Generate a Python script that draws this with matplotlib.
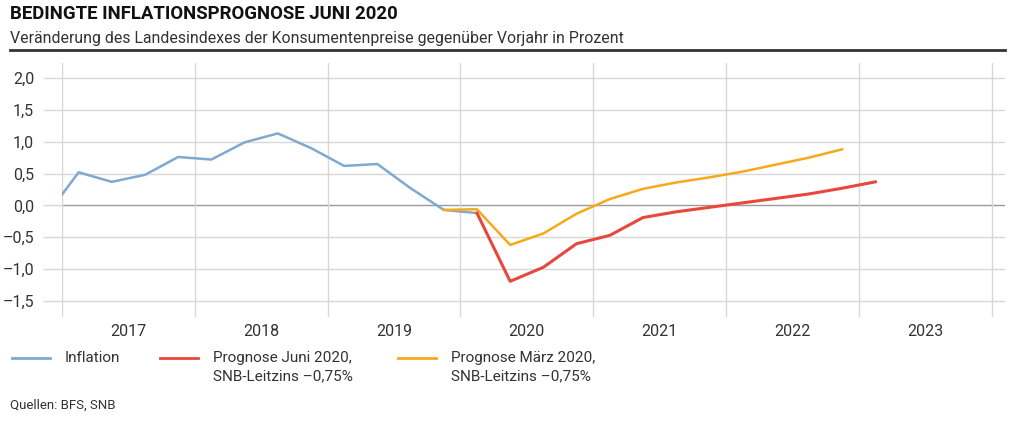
import matplotlib
matplotlib.use("Agg")
import matplotlib.pyplot as plt
from matplotlib.lines import Line2D

plt.rcParams['font.family'] = ['Roboto', 'DejaVu Sans']

# quarterly data, x = quarter midpoints in year units
infl_q = ["2016Q4", "2017Q1", "2017Q2", "2017Q3", "2017Q4", "2018Q1", "2018Q2", "2018Q3",
          "2018Q4", "2019Q1", "2019Q2", "2019Q3", "2019Q4", "2020Q1"]
infl_v = [-0.18, 0.52, 0.37, 0.48, 0.76, 0.72, 0.99, 1.13, 0.90, 0.62, 0.65, 0.27, -0.07, -0.12]

juni_q = ["2020Q1", "2020Q2", "2020Q3", "2020Q4", "2021Q1", "2021Q2", "2021Q3", "2021Q4",
          "2022Q1", "2022Q2", "2022Q3", "2022Q4", "2023Q1"]
juni_v = [-0.12, -1.19, -0.97, -0.60, -0.47, -0.19, -0.10, -0.03, 0.04, 0.11, 0.18, 0.27, 0.37]

maerz_q = ["2019Q4", "2020Q1", "2020Q2", "2020Q3", "2020Q4", "2021Q1", "2021Q2", "2021Q3",
           "2021Q4", "2022Q1", "2022Q2", "2022Q3", "2022Q4"]
maerz_v = [-0.07, -0.06, -0.62, -0.44, -0.13, 0.10, 0.26, 0.36, 0.44, 0.53, 0.64, 0.75, 0.88]

years = [2017, 2018, 2019, 2020, 2021, 2022, 2023]
yticks = [-1.5, -1.0, -0.5, 0.0, 0.5, 1.0, 1.5, 2.0]

def qx(q):
    y = int(q[:4]); n = int(q[-1])
    return y + (n - 0.5) / 4.0

C_BLUE = "#80A9CF"
C_RED = "#E8473C"
C_ORANGE = "#F6A91A"
C_GRID = "#D8D8D8"
C_TXT = "#333333"

W, H = 1024, 423
fig = plt.figure(figsize=(W / 100, H / 100), dpi=100)
ax = fig.add_axes([62 / W, 1 - 317 / H, (1005 - 62) / W, (317 - 63) / H])

ax.set_xlim(2017, 2024 + 13.5 / 133)
ax.set_ylim(-1.5 - 16 / 64, 2.0 + 15 / 64)

for s in ax.spines.values():
    s.set_visible(False)

for yv in yticks:
    ax.axhline(yv, color="#9A9A9A" if yv == 0 else C_GRID, lw=1.0, zorder=1)
for yr in years + [2024]:
    ax.axvline(yr, color=C_GRID, lw=1.0, zorder=1)

ax.set_yticks(yticks)
ax.set_yticklabels([("%.1f" % v).replace(".", ",").replace("-", "\u2013") for v in yticks],
                   fontsize=11.5, color=C_TXT)
ax.tick_params(axis="y", length=14, width=1.0, color=C_GRID, pad=6)
ax.set_xticks([])

for yr in years:
    ax.text(yr + 0.5, -0.028, str(yr), transform=ax.get_xaxis_transform(),
            ha="center", va="top", fontsize=11.5, color=C_TXT)

ax.plot([qx(q) for q in infl_q], infl_v, color=C_BLUE, lw=1.8, zorder=3, solid_joinstyle="round")
ax.plot([qx(q) for q in maerz_q], maerz_v, color=C_ORANGE, lw=1.8, zorder=4, solid_joinstyle="round")
ax.plot([qx(q) for q in juni_q], juni_v, color=C_RED, lw=2.2, zorder=5, solid_joinstyle="round")

# title & subtitle
fig.text(10 / W, 1 - 14 / H, "BEDINGTE INFLATIONSPROGNOSE JUNI 2020", fontsize=13.4,
         fontweight="bold", color="#111111", ha="left", va="center")
fig.text(10 / W, 1 - 39 / H,
         "Veränderung des Landesindexes der Konsumentenpreise gegenüber Vorjahr in Prozent",
         fontsize=11.4, color=C_TXT, ha="left", va="center")
fig.add_artist(Line2D([10 / W, 1005 / W], [1 - 50.5 / H, 1 - 50.5 / H], color="#333333", lw=2.0))

# legend
def leg(x0, color, text):
    fig.add_artist(Line2D([x0 / W, (x0 + 38) / W], [1 - 358 / H, 1 - 358 / H], color=color, lw=2))
    fig.text((x0 + 53) / W, 1 - 351 / H, text, fontsize=11, color=C_TXT,
             ha="left", va="top", linespacing=1.35)

leg(12, C_BLUE, "Inflation")
leg(160, C_RED, "Prognose Juni 2020,\nSNB-Leitzins \u20130,75%")
leg(398, C_ORANGE, "Prognose März 2020,\nSNB-Leitzins \u20130,75%")

fig.text(10 / W, 1 - 405 / H, "Quellen: BFS, SNB", fontsize=9.5, color=C_TXT,
         ha="left", va="center")

fig.savefig("out.png", dpi=100)
